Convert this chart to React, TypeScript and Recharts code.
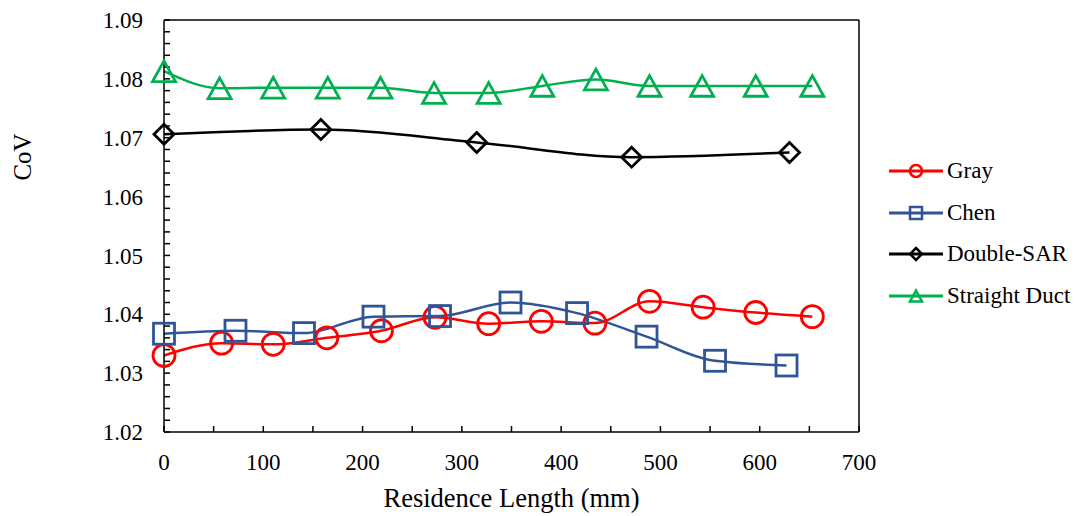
import React from 'react';
import { Line, LineChart, ReferenceLine, XAxis, YAxis } from 'recharts';

const FONT = '"Liberation Serif", "Times New Roman", serif';

// Gray
const grayX = [0, 58, 110, 164, 219, 273, 327, 380, 434, 489, 543, 596, 653];
const grayY = [1.033, 1.0351, 1.0349, 1.036, 1.0372, 1.0395, 1.0384, 1.0388, 1.0385, 1.0422, 1.0412, 1.0403, 1.0396];
// Chen
const chenX = [0, 72, 141, 211, 278, 349, 416, 486, 555, 627];
const chenY = [1.0367, 1.0372, 1.0368, 1.0396, 1.0397, 1.042, 1.0402, 1.0362, 1.0321, 1.0313];
// Double-SAR
const sarX = [0, 158, 315, 471, 630];
const sarY = [1.0706, 1.0714, 1.0692, 1.0667, 1.0675];
// Straight Duct
const ductX = [0, 56, 110, 165, 218, 272, 327, 381, 435, 489, 542, 596, 653];
const ductY = [1.0813, 1.0784, 1.0785, 1.0785, 1.0785, 1.0776, 1.0776, 1.0788, 1.0799, 1.0788, 1.0788, 1.0788, 1.0788];

const xTicks = [0, 50, 100, 150, 200, 250, 300, 350, 400, 450, 500, 550, 600, 650, 700];
const yTicks = Array.from({ length: 36 }, (_, i) => Math.round((1.02 + i * 0.002) * 1000) / 1000);

type Shape = 'circle' | 'square' | 'diamond' | 'triangle';

const toRows = (xs: number[], ys: number[]) => xs.map((x, i) => ({ x, y: ys[i] }));

const series = [
  { name: 'Gray', color: '#FF0000', shape: 'circle' as Shape, data: toRows(grayX, grayY) },
  { name: 'Chen', color: '#2F5597', shape: 'square' as Shape, data: toRows(chenX, chenY) },
  { name: 'Double-SAR', color: '#000000', shape: 'diamond' as Shape, data: toRows(sarX, sarY) },
  { name: 'Straight Duct', color: '#00B050', shape: 'triangle' as Shape, data: toRows(ductX, ductY) },
];

function Marker({ shape, cx, cy, size, color, sw }: { shape: Shape; cx: number; cy: number; size: number; color: string; sw: number }) {
  const common = { fill: 'none', stroke: color, strokeWidth: sw };
  if (shape === 'circle') return <circle cx={cx} cy={cy} r={size} {...common} />;
  if (shape === 'square')
    return <rect x={cx - size} y={cy - size} width={size * 2} height={size * 2} {...common} />;
  if (shape === 'diamond')
    return (
      <polygon
        points={`${cx},${cy - size} ${cx + size},${cy} ${cx},${cy + size} ${cx - size},${cy}`}
        {...common}
      />
    );
  const h = size * 1.8;
  return (
    <polygon
      points={`${cx},${cy - h * 0.5} ${cx + size},${cy + h * 0.5} ${cx - size},${cy + h * 0.5}`}
      {...common}
    />
  );
}

const dotSize: Record<Shape, number> = { circle: 11, square: 10.5, diamond: 10, triangle: 11.5 };

const renderCoV = () => (
  <text x={22} y={157} transform="rotate(-90, 22, 157)" textAnchor="middle" dominantBaseline="central" fontFamily={FONT} fontSize={25} fill="#000">
    CoV
  </text>
);

const renderXTitle = (p: any) => {
  const vb = p.viewBox || { x: 164, y: 432, width: 695, height: 84 };
  return (
    <text x={vb.x + vb.width / 2} y={vb.y + vb.height - 9} textAnchor="middle" fontFamily={FONT} fontSize={26.5} fill="#000">
      Residence Length (mm)
    </text>
  );
};

const XTick = (p: any) => {
  const v = p.payload.value as number;
  return (
    <text x={p.x} y={p.y} dy="0.71em" textAnchor="middle" fontFamily={FONT} fontSize={23} fill="#000">
      {v % 100 === 0 ? String(v) : ''}
    </text>
  );
};

const YTick = (p: any) => {
  const v = p.payload.value as number;
  const major = Math.abs(v * 100 - Math.round(v * 100)) < 1e-6;
  return (
    <text x={p.x} y={p.y} dy="0.355em" textAnchor="end" fontFamily={FONT} fontSize={23} fill="#000">
      {major ? v.toFixed(2) : ''}
    </text>
  );
};

export default function App() {
  return (
    <div style={{ position: 'absolute', left: 0, top: 0, width: 1084, height: 516, background: '#fff', fontFamily: FONT }}>
      <LineChart width={1084} height={516} margin={{ top: 20, right: 225, bottom: 0, left: 0 }}>
        <XAxis
          type="number"
          dataKey="x"
          domain={[0, 700]}
          ticks={xTicks}
          interval={0}
          height={84}
          tickSize={-6}
          tickMargin={28}
          tick={XTick}
          stroke="#000"
          axisLine={{ stroke: '#000', strokeWidth: 1.5 }}
          tickLine={{ stroke: '#000', strokeWidth: 1.5 }}
          label={renderXTitle}
        />
        <YAxis
          type="number"
          domain={[1.02, 1.09]}
          ticks={yTicks}
          interval={0}
          width={164}
          tickSize={-6}
          tickMargin={27}
          tick={YTick}
          stroke="#000"
          axisLine={{ stroke: '#000', strokeWidth: 1.5 }}
          tickLine={{ stroke: '#000', strokeWidth: 1.5 }}
          label={renderCoV}
        />
        <ReferenceLine y={1.09} stroke="#000" strokeWidth={1.5} />
        <ReferenceLine x={700} stroke="#000" strokeWidth={1.5} />
        {series.map((s) => (
          <Line
            key={s.name}
            data={s.data}
            dataKey="y"
            name={s.name}
            type="monotone"
            stroke={s.color}
            strokeWidth={2.5}
            isAnimationActive={false}
            dot={(p: any) => (
              <Marker key={`${s.name}-${p.index}`} shape={s.shape} cx={p.cx} cy={p.cy} size={dotSize[s.shape]} color={s.color} sw={2.8} />
            )}
            activeDot={false}
          />
        ))}
      </LineChart>
      <div style={{ position: 'absolute', left: 889, top: 150, fontSize: 23, color: '#000' }}>
        {series.map((s) => (
          <div key={s.name} style={{ display: 'flex', alignItems: 'center', height: 41.7, whiteSpace: 'nowrap' }}>
            <svg width={54} height={24} style={{ display: 'block' }}>
              <line x1={0} y1={12} x2={54} y2={12} stroke={s.color} strokeWidth={2.8} />
              <Marker shape={s.shape} cx={27} cy={12} size={6} color={s.color} sw={2.5} />
            </svg>
            <span style={{ marginLeft: 4 }}>{s.name}</span>
          </div>
        ))}
      </div>
    </div>
  );
}
